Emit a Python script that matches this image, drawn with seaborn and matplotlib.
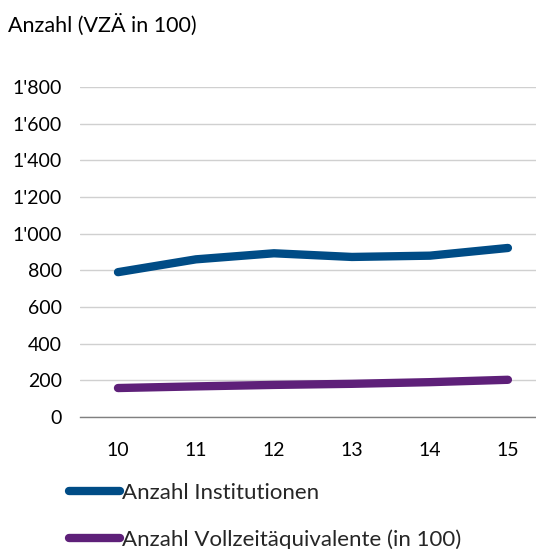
import pandas as pd
import matplotlib.pyplot as plt
import seaborn as sns
from matplotlib.ticker import FuncFormatter

# ---------- DATA ----------
years = ["10", "11", "12", "13", "14", "15"]
institutionen = [790, 860, 893, 873, 880, 922]
vzae = [158, 167, 175, 181, 190, 203]
series_names = ["Anzahl Institutionen", "Anzahl Vollzeitäquivalente (in 100)"]
colors = ["#004C86", "#5E2079"]
# --------------------------

sns.set_theme(style="white")
plt.rcParams["font.family"] = ["Lato", "DejaVu Sans"]

df = pd.DataFrame({
    "Jahr": years * 2,
    "Wert": institutionen + vzae,
    "Serie": [series_names[0]] * len(years) + [series_names[1]] * len(years),
})

fig = plt.figure(figsize=(5.36, 5.49), dpi=100)
ax = fig.add_axes([80 / 536, 1 - 417 / 549, 1 - 80 / 536, (417 - 87) / 549])

sns.lineplot(data=df, x="Jahr", y="Wert", hue="Serie", palette=colors,
             linewidth=6, ax=ax, legend=False, sort=False,
             solid_capstyle="round", clip_on=False)

ax.set_ylim(0, 1800)
ax.set_xlim(-0.487, 5.36)
ax.set_yticks(range(0, 1801, 200))
ax.yaxis.set_major_formatter(FuncFormatter(lambda v, p: f"{v:,.0f}".replace(",", "'")))
ax.grid(axis="y", color="#d0d0d0", linewidth=1)
ax.set_axisbelow(True)
for s in ["top", "right", "left"]:
    ax.spines[s].set_visible(False)
ax.spines["bottom"].set_color("#808080")
ax.spines["bottom"].set_linewidth(1)
ax.tick_params(axis="both", length=0, labelsize=14, colors="black")
ax.tick_params(axis="y", pad=13)
ax.tick_params(axis="x", pad=18)
ax.set_xlabel("")
ax.set_ylabel("")

fig.text(8 / 536, 1 - 25 / 549, "Anzahl (VZÄ in 100)", fontsize=15.5,
         va="center", ha="left", color="black")

# legend
handles = [plt.Line2D([], [], color=c, linewidth=6, solid_capstyle="round") for c in colors]
fig.legend(handles, series_names, loc="upper left", bbox_to_anchor=(60 / 536, 1 - 474 / 549),
           frameon=False, fontsize=16, handlelength=2.3, handletextpad=0.1,
           labelspacing=1.2, borderaxespad=0)

fig.savefig("out.png", dpi=100)
